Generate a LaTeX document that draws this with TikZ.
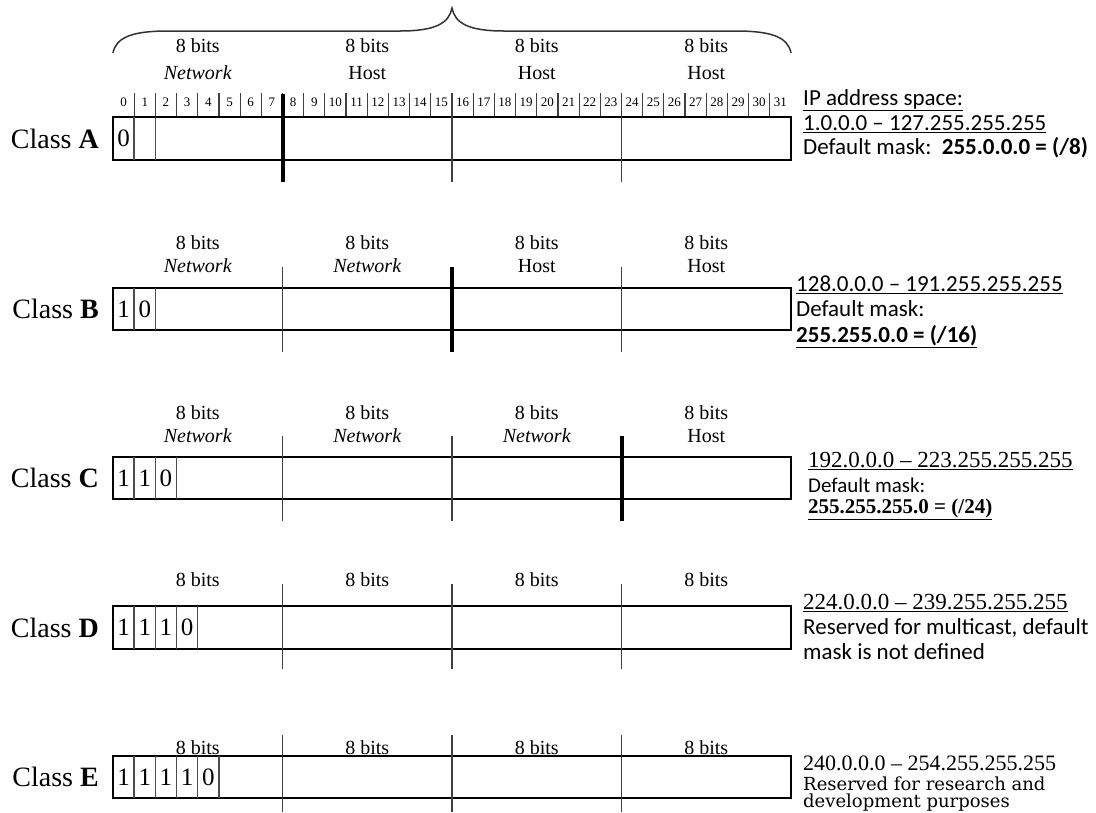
\documentclass[tikz,border=0pt]{standalone}
\usepackage{fontspec}
\setmainfont{Liberation Serif}
\newfontfamily\califont{Carlito}
\newfontfamily\cambfont{DejaVu Serif}
\begin{document}
\begin{tikzpicture}[x=1pt,y=-1pt,
  boxline/.style={line width=2.6pt,draw=black},
  cellline/.style={line width=1.4pt,draw=black!70},
  thindiv/.style={line width=1.6pt,draw=black!75},
  thickdiv/.style={line width=4pt,draw=black},
  tickline/.style={line width=1.2pt,draw=black!75},
  bracel/.style={line width=1.5pt,draw=black!80},
  classlbl/.style={font=\fontsize{28}{30}\selectfont,anchor=east,inner sep=0pt},
  digit/.style={font=\fontsize{25}{28}\selectfont,inner sep=0pt},
  bits/.style={font=\fontsize{20}{22}\selectfont,inner sep=0pt},
  bitno/.style={font=\fontsize{13}{14}\selectfont,inner sep=0pt},
  rtxt/.style={font=\califont\fontsize{23}{25}\selectfont,anchor=west,inner sep=0pt},
  rser/.style={font=\fontsize{23}{25}\selectfont,anchor=west,inner sep=0pt},
  rcamb/.style={font=\cambfont\fontsize{18}{20}\selectfont,anchor=west,inner sep=0pt}
]
\useasboundingbox (0,0) rectangle (1096,812);
\def\L{113}\def\R{791}\def\W{21.1875}
% brace
\draw[bracel] (\L,53) .. controls (\L+3,37) and (\L+20,31) .. (\L+55,31) -- (400,31)
  .. controls (436,31) and (449,23) .. (452,8) .. controls (455,23) and (468,31) .. (504,31)
  -- (\R-55,31) .. controls (\R-20,31) and (\R-3,37) .. (\R,53);
\def\ga{197.75}\def\gb{367.25}\def\gc{536.75}\def\gd{706.25}
% ================= Class A
\node[bits] (a8a) at (\ga,46) {8 bits};
\node[bits] (a8b) at (\gb,46) {8 bits};
\node[bits] (a8c) at (\gc,46) {8 bits};
\node[bits] (a8d) at (\gd,46) {8 bits};
\node[bits] (ana) at (\ga,73) {\itshape Network};
\node[bits] (ahb) at (\gb,73) {Host};
\node[bits] (ahc) at (\gc,73) {Host};
\node[bits] (ahd) at (\gd,73) {Host};
\foreach \i in {0,...,31}{
  \node[bitno] (n\i) at ({\L+(\i+0.5)*\W},102) {\i};
}
\foreach \i in {1,...,31}{
  \draw[tickline] ({\L+\i*\W},93) -- ({\L+\i*\W},117);
}
\draw[boxline] (\L,117) rectangle (\R,160);
\foreach \i in {1,2} \draw[cellline] ({\L+\i*\W},117) -- ({\L+\i*\W},160);
\node[digit] (ad0) at ({\L+0.5*\W},138.5) {0};
\draw[thindiv] ({\L+16*\W},94) -- ({\L+16*\W},182);
\draw[thindiv] ({\L+24*\W},94) -- ({\L+24*\W},182);
\draw[thickdiv] ({\L+8*\W},94) -- ({\L+8*\W},182);
\node[classlbl] (ca) at (99,138.5) {Class \textbf{A}};
\node[rtxt] (ra1) at (803,100) {\underline{IP address space:}};
\node[rtxt] (ra2) at (803,124) {\underline{1.0.0.0 – 127.255.255.255}};
\node[rtxt] (ra3) at (803,148) {Default mask:\ \ \textbf{255.0.0.0 = (/8)}};
% ================= Class B
\node[bits] (b8a) at (\ga,243) {8 bits};
\node[bits] (b8b) at (\gb,243) {8 bits};
\node[bits] (b8c) at (\gc,243) {8 bits};
\node[bits] (b8d) at (\gd,243) {8 bits};
\node[bits] (bna) at (\ga,266) {\itshape Network};
\node[bits] (bnb) at (\gb,266) {\itshape Network};
\node[bits] (bhc) at (\gc,266) {Host};
\node[bits] (bhd) at (\gd,266) {Host};
\draw[boxline] (\L,288) rectangle (\R,330);
\foreach \i in {1,2} \draw[cellline] ({\L+\i*\W},288) -- ({\L+\i*\W},330);
\node[digit] (bd0) at ({\L+0.5*\W},309) {1};
\node[digit] (bd1) at ({\L+1.5*\W},309) {0};
\draw[thindiv] ({\L+8*\W},267) -- ({\L+8*\W},352);
\draw[thindiv] ({\L+24*\W},267) -- ({\L+24*\W},352);
\draw[thickdiv] ({\L+16*\W},267) -- ({\L+16*\W},352);
\node[classlbl] (cb) at (99,309) {Class \textbf{B}};
\node[rtxt] (rb1) at (796,285) {\underline{128.0.0.0 – 191.255.255.255}};
\node[rtxt] (rb2) at (796,309) {Default mask:};
\node[rtxt] (rb3) at (796,337) {\underline{\textbf{255.255.0.0 = (/16)}}};
% ================= Class C
\node[bits] (c8a) at (\ga,413) {8 bits};
\node[bits] (c8b) at (\gb,413) {8 bits};
\node[bits] (c8c) at (\gc,413) {8 bits};
\node[bits] (c8d) at (\gd,413) {8 bits};
\node[bits] (cna) at (\ga,436) {\itshape Network};
\node[bits] (cnb) at (\gb,436) {\itshape Network};
\node[bits] (cnc) at (\gc,436) {\itshape Network};
\node[bits] (chd) at (\gd,436) {Host};
\draw[boxline] (\L,457) rectangle (\R,499);
\foreach \i in {1,2,3} \draw[cellline] ({\L+\i*\W},457) -- ({\L+\i*\W},499);
\node[digit] (cd0) at ({\L+0.5*\W},478) {1};
\node[digit] (cd1) at ({\L+1.5*\W},478) {1};
\node[digit] (cd2) at ({\L+2.5*\W},478) {0};
\draw[thindiv] ({\L+8*\W},436) -- ({\L+8*\W},521);
\draw[thindiv] ({\L+16*\W},436) -- ({\L+16*\W},521);
\draw[thickdiv] ({\L+24*\W},436) -- ({\L+24*\W},521);
\node[classlbl] (cc) at (99,478) {Class \textbf{C}};
\node[rser] (rc1) at (808,461) {\underline{192.0.0.0 – 223.255.255.255}};
\node[rtxt,font=\califont\fontsize{21}{23}\selectfont] (rc2) at (808,485) {Default mask:};
\node[rser,font=\fontsize{21}{23}\selectfont] (rc3) at (808,509) {\underline{\textbf{255.255.255.0 = (/24)}}};
% ================= Class D
\node[bits] (d8a) at (\ga,580) {8 bits};
\node[bits] (d8b) at (\gb,580) {8 bits};
\node[bits] (d8c) at (\gc,580) {8 bits};
\node[bits] (d8d) at (\gd,580) {8 bits};
\draw[boxline] (\L,606) rectangle (\R,649);
\foreach \i in {1,2,3,4} \draw[cellline] ({\L+\i*\W},606) -- ({\L+\i*\W},649);
\node[digit] (dd0) at ({\L+0.5*\W},627.5) {1};
\node[digit] (dd1) at ({\L+1.5*\W},627.5) {1};
\node[digit] (dd2) at ({\L+2.5*\W},627.5) {1};
\node[digit] (dd3) at ({\L+3.5*\W},627.5) {0};
\foreach \i in {8,16,24} \draw[thindiv] ({\L+\i*\W},584) -- ({\L+\i*\W},669);
\node[classlbl] (cdl) at (99,627.5) {Class \textbf{D}};
\node[rser] (rd1) at (803,603) {\underline{224.0.0.0 – 239.255.255.255}};
\node[rtxt] (rd2) at (803,628) {Reserved for multicast, default};
\node[rtxt] (rd3) at (803,652) {mask is not defined};
% ================= Class E
\node[bits] (e8a) at (\ga,748) {8 bits};
\node[bits] (e8b) at (\gb,748) {8 bits};
\node[bits] (e8c) at (\gc,748) {8 bits};
\node[bits] (e8d) at (\gd,748) {8 bits};
\draw[boxline] (\L,756) rectangle (\R,798);
\foreach \i in {1,2,3,4,5} \draw[cellline] ({\L+\i*\W},756) -- ({\L+\i*\W},798);
\node[digit] (ed0) at ({\L+0.5*\W},777) {1};
\node[digit] (ed1) at ({\L+1.5*\W},777) {1};
\node[digit] (ed2) at ({\L+2.5*\W},777) {1};
\node[digit] (ed3) at ({\L+3.5*\W},777) {1};
\node[digit] (ed4) at ({\L+4.5*\W},777) {0};
\foreach \i in {8,16,24} \draw[thindiv] ({\L+\i*\W},735) -- ({\L+\i*\W},812);
\node[classlbl] (cel) at (99,777) {Class \textbf{E}};
\node[rser,font=\fontsize{22}{24}\selectfont] (re1) at (803,763) {240.0.0.0 – 254.255.255.255};
\node[rcamb] (re2) at (803,784) {Reserved for research and};
\node[rcamb] (re3) at (803,803) {development purposes};
\end{tikzpicture}
\end{document}
